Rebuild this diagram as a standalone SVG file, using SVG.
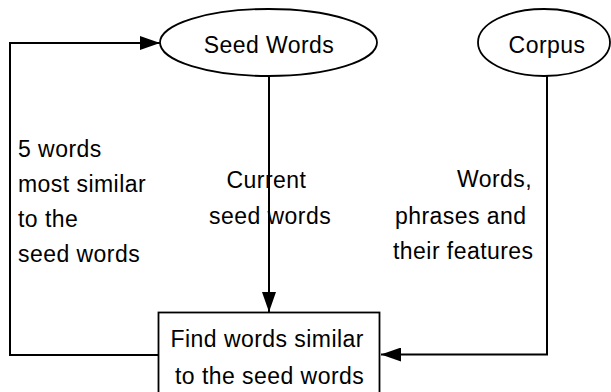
<svg xmlns="http://www.w3.org/2000/svg" width="611" height="392" viewBox="0 0 611 392">
<style>
text{font-family:"Liberation Sans",Arial,sans-serif;font-size:23px;letter-spacing:0.45px;fill:#000}
.node{fill:#fff;stroke:#000;stroke-width:1.8}
.edge{fill:none;stroke:#000;stroke-width:2}
.c{text-anchor:middle}
</style>
<defs>
<marker id="ah" markerUnits="userSpaceOnUse" markerWidth="20" markerHeight="14" refX="20" refY="7" orient="auto">
<path d="M0,0 L20,7 L0,14 Z" fill="#000"/>
</marker>
</defs>
<rect width="611" height="392" fill="#fff"/>
<g id="connectors">
<polyline class="edge" points="158,355 10,355 10,43 160,43" marker-end="url(#ah)"/>
<line class="edge" x1="269" y1="76" x2="269" y2="312" marker-end="url(#ah)"/>
<polyline class="edge" points="547,76 547,354.5 381,354.5" marker-end="url(#ah)"/>
</g>
<g id="seed-words">
<ellipse class="node" cx="268.5" cy="42.5" rx="108.5" ry="33.5"/>
<text class="c" x="269" y="53">Seed Words</text>
</g>
<g id="corpus">
<ellipse class="node" cx="544" cy="42.5" rx="66" ry="33.5"/>
<text class="c" x="547" y="53">Corpus</text>
</g>
<g id="find-words">
<rect class="node" x="158.5" y="312.5" width="221" height="100"/>
<text x="170.5" y="346.5">Find words similar</text>
<text x="175" y="383.5">to the seed words</text>
</g>
<g id="labels">
<text x="18" y="156.5">5 words</text>
<text x="18" y="191.5">most similar</text>
<text x="18" y="226.5">to the</text>
<text x="18" y="261.5">seed words</text>
<text x="226.5" y="187.5">Current</text>
<text x="209" y="223.5">seed words</text>
<text x="457" y="186.5">Words,</text>
<text x="395" y="223.5">phrases and</text>
<text x="393" y="258.5">their features</text>
</g>
</svg>
